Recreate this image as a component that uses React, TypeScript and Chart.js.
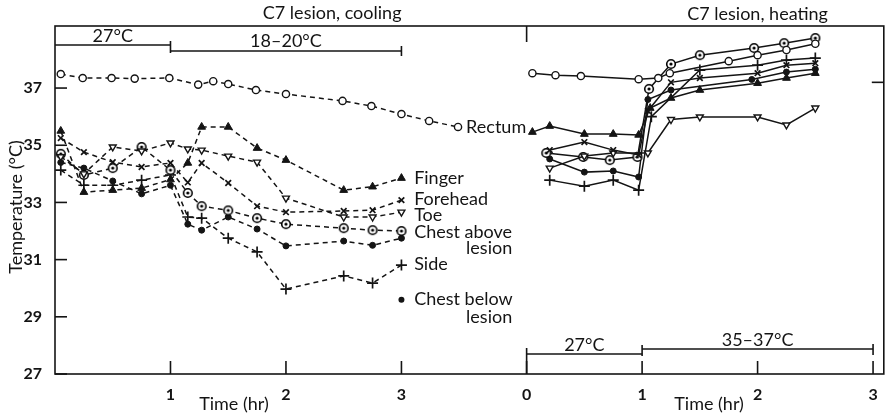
import { useEffect, useRef } from "react";
import { Chart, registerables } from "chart.js";

Chart.register(...registerables);

// ---- axis / layout constants (values, not marks) ----
const OFFSET = 4.084; // right panel time origin on the shared x axis
const X_MAX = 7.177;
const Y_MIN = 27;
const Y_MAX = 39.17;
const yTicks = [27, 29, 31, 33, 35, 37];
const coolTicks = [1, 2, 3];
const heatTicks = [0, 1, 2, 3];

// ---- data: [time (hr), temperature (°C)] ----
// Cooling (left panel)
const rectumCool = [[0.05, 37.49], [0.24, 37.35], [0.49, 37.35], [0.69, 37.33], [0.99, 37.35], [1.24, 37.12], [1.37, 37.24], [1.5, 37.14], [1.74, 36.93], [2.0, 36.79], [2.49, 36.55], [2.74, 36.37], [3.0, 36.09], [3.24, 35.85], [3.49, 35.64]];
const fingerCool = [[0.05, 35.5], [0.25, 33.36], [0.5, 33.43], [0.75, 33.5], [1.0, 33.8], [1.15, 34.38], [1.27, 35.64], [1.5, 35.64], [1.75, 34.9], [2.0, 34.48], [2.5, 33.43], [2.75, 33.55], [3.0, 33.85]];
const foreheadCool = [[0.05, 35.25], [0.25, 34.76], [0.5, 34.41], [0.75, 34.24], [1.0, 34.38], [1.15, 33.7], [1.27, 34.38], [1.5, 33.68], [1.75, 32.87], [2.0, 32.66], [2.5, 32.7], [2.75, 32.73], [3.0, 33.08]];
const toeCool = [[0.05, 34.6], [0.25, 34.0], [0.5, 34.94], [0.75, 34.8], [1.0, 35.08], [1.15, 34.87], [1.27, 34.83], [1.5, 34.62], [1.75, 34.41], [2.0, 33.15], [2.5, 32.49], [2.75, 32.49], [3.0, 32.66]];
const chestAboveCool = [[0.05, 34.7], [0.25, 33.96], [0.5, 34.2], [0.75, 34.94], [1.0, 34.13], [1.15, 33.33], [1.27, 32.87], [1.5, 32.72], [1.75, 32.45], [2.0, 32.24], [2.5, 32.1], [2.75, 32.03], [3.0, 32.0]];
const sideCool = [[0.05, 34.13], [0.25, 33.6], [0.5, 33.6], [0.75, 33.78], [1.0, 33.96], [1.15, 32.49], [1.27, 32.45], [1.5, 31.75], [1.75, 31.27], [2.0, 29.97], [2.5, 30.43], [2.75, 30.18], [3.0, 30.81]];
const chestBelowCool = [[0.05, 34.4], [0.25, 34.2], [0.5, 33.75], [0.75, 33.3], [1.0, 33.6], [1.15, 32.24], [1.27, 32.03], [1.5, 32.49], [1.75, 32.07], [2.0, 31.48], [2.5, 31.65], [2.75, 31.5], [3.0, 31.75]];

// Heating (right panel)
const rectumHeat = [[0.05, 37.52], [0.25, 37.45], [0.47, 37.42], [0.97, 37.31], [1.14, 37.35], [1.24, 37.52], [1.75, 37.94], [2.0, 38.15], [2.25, 38.33], [2.5, 38.55]];
const fingerHeat = [[0.05, 35.46], [0.2, 35.67], [0.5, 35.39], [0.75, 35.39], [0.97, 35.36], [1.07, 36.3], [1.25, 36.65], [1.5, 36.93], [2.0, 37.17], [2.25, 37.35], [2.5, 37.52]];
const foreheadHeat = [[0.2, 34.83], [0.5, 35.11], [0.75, 34.83], [0.97, 34.66], [1.05, 36.2], [1.25, 37.2], [1.5, 37.35], [2.0, 37.52], [2.25, 37.8], [2.5, 37.87]];
const toeHeat = [[0.2, 34.2], [0.5, 34.62], [0.75, 34.73], [1.05, 34.73], [1.25, 35.9], [1.5, 35.99], [2.0, 35.99], [2.25, 35.71], [2.5, 36.3]];
const chestAboveHeat = [[0.17, 34.73], [0.49, 34.59], [0.72, 34.48], [0.96, 34.59], [1.06, 36.97], [1.25, 37.84], [1.5, 38.15], [1.97, 38.4], [2.23, 38.57], [2.5, 38.75]];
const sideHeat = [[0.2, 33.78], [0.5, 33.57], [0.75, 33.78], [0.97, 33.43], [1.08, 36.0], [1.5, 37.63], [2.0, 37.8], [2.25, 37.98], [2.5, 38.05]];
const chestBelowHeat = [[0.2, 34.52], [0.5, 34.06], [0.75, 34.1], [0.97, 33.89], [1.05, 36.6], [1.25, 36.93], [1.95, 37.3], [2.25, 37.56], [2.5, 37.66]];

const seriesNames = ["Rectum", "Finger", "Forehead", "Toe", "Chest above lesion", "Side", "Chest below lesion"];
const coolData = [rectumCool, fingerCool, foreheadCool, toeCool, chestAboveCool, sideCool, chestBelowCool];
const heatData = [rectumHeat, fingerHeat, foreheadHeat, toeHeat, chestAboveHeat, sideHeat, chestBelowHeat];
const markers = ["open", "tri", "x", "itri", "dot", "plus", "fill"];

// label annotations next to the cooling curves: [text, time, temp]
const curveLabels: [string, number, number][] = [
  ["Rectum", 3.56, 35.64],
  ["Finger", 3.11, 33.85],
  ["Forehead", 3.11, 33.12],
  ["Toe", 3.11, 32.55],
  ["Chest above", 3.11, 31.95],
  ["lesion", 3.56, 31.4],
  ["Side", 3.11, 30.85],
  ["Chest below", 3.11, 29.6],
  ["lesion", 3.56, 29.0],
];
const legendDot = [3.0, 29.6];

const INK = "#141414";
const FONT = "Lato, 'Open Sans', sans-serif";

function makeDotCircle(): HTMLCanvasElement {
  const c = document.createElement("canvas");
  c.width = 12;
  c.height = 12;
  const g = c.getContext("2d")!;
  g.fillStyle = "#fff";
  g.strokeStyle = "#000";
  g.lineWidth = 1.6;
  g.beginPath();
  g.arc(6, 6, 4.3, 0, Math.PI * 2);
  g.fill();
  g.stroke();
  g.fillStyle = "#000";
  g.beginPath();
  g.arc(6, 6, 1.6, 0, Math.PI * 2);
  g.fill();
  return c;
}

function markerStyle(m: string, dotImg: HTMLCanvasElement) {
  switch (m) {
    case "open":
      return { pointStyle: "circle", pointRadius: 3.6, pointBackgroundColor: "#fff", pointBorderWidth: 1.4 };
    case "tri":
      return { pointStyle: "triangle", pointRadius: 4.5, pointBackgroundColor: INK, pointBorderWidth: 1 };
    case "itri":
      return { pointStyle: "triangle", pointRotation: 180, pointRadius: 4, pointBackgroundColor: "#fff", pointBorderWidth: 1.4 };
    case "x":
      return { pointStyle: "crossRot", pointRadius: 4, pointBorderWidth: 1.7 };
    case "plus":
      return { pointStyle: "cross", pointRadius: 5.5, pointBorderWidth: 1.7 };
    case "dot":
      return { pointStyle: dotImg, pointRadius: 5 };
    default:
      return { pointStyle: "circle", pointRadius: 3, pointBackgroundColor: INK, pointBorderWidth: 1 };
  }
}

const decorPlugin = {
  id: "decor",
  afterDraw(chart: any) {
    const { ctx, chartArea: a } = chart;
    const x = chart.scales.x;
    const y = chart.scales.y;
    ctx.save();
    ctx.strokeStyle = INK;
    ctx.fillStyle = INK;
    ctx.lineWidth = 1.6;
    // frame
    ctx.strokeRect(a.left, a.top, a.right - a.left, a.bottom - a.top);

    const line = (x1: number, y1: number, x2: number, y2: number) => {
      ctx.beginPath();
      ctx.moveTo(x1, y1);
      ctx.lineTo(x2, y2);
      ctx.stroke();
    };
    // inward ticks
    yTicks.forEach((v) => line(a.left, y.getPixelForValue(v), a.left + 12, y.getPixelForValue(v)));
    coolTicks.forEach((v) => line(x.getPixelForValue(v), a.bottom, x.getPixelForValue(v), a.bottom - 13));
    heatTicks.forEach((v) => line(x.getPixelForValue(v + OFFSET), a.bottom, x.getPixelForValue(v + OFFSET), a.bottom - 13));
    line(x.getPixelForValue(OFFSET), a.top, x.getPixelForValue(OFFSET), a.top + 16);
    line(a.right - 12, y.getPixelForValue(37.2), a.right, y.getPixelForValue(37.2));

    // ambient temperature brackets
    const x0 = x.getPixelForValue(0), x1 = x.getPixelForValue(1), x3 = x.getPixelForValue(3);
    line(x0, a.top + 19, x1, a.top + 19);
    line(x1, a.top + 15, x1, a.top + 27);
    line(x1, a.top + 25, x3, a.top + 25);
    line(x3, a.top + 20, x3, a.top + 30);
    const h0 = x.getPixelForValue(OFFSET), h1 = x.getPixelForValue(OFFSET + 1), h3 = x.getPixelForValue(OFFSET + 3);
    line(h0, a.bottom - 20, h1, a.bottom - 20);
    line(h0, a.bottom - 26, h0, a.bottom);
    line(h1, a.bottom - 29, h1, a.bottom - 18);
    line(h1, a.bottom - 25, h3, a.bottom - 25);
    line(h3, a.bottom - 30, h3, a.bottom - 19);

    ctx.font = `18px ${FONT}`;
    ctx.textAlign = "center";
    ctx.textBaseline = "middle";
    ctx.fillText("27°C", (x0 + x1) / 2, a.top + 10);
    ctx.fillText("18–20°C", (x1 + x3) / 2, a.top + 15);
    ctx.fillText("27°C", (h0 + h1) / 2, a.bottom - 29);
    ctx.fillText("35–37°C", (h1 + h3) / 2, a.bottom - 34);

    // panel titles
    ctx.fillText("C7 lesion, cooling", x.getPixelForValue(2.4), 13);
    ctx.fillText("C7 lesion, heating", x.getPixelForValue(OFFSET + 2.0), 14);
    // axis titles
    ctx.fillText("Time (hr)", x.getPixelForValue(1.55), 404);
    ctx.fillText("Time (hr)", x.getPixelForValue(OFFSET + 1.58), 404);
    ctx.save();
    ctx.translate(16, 207);
    ctx.rotate(-Math.PI / 2);
    ctx.fillText("Temperature (°C)", 0, 0);
    ctx.restore();

    // curve labels
    ctx.textAlign = "left";
    curveLabels.forEach(([t, tx, tv]) => ctx.fillText(t, x.getPixelForValue(tx), y.getPixelForValue(tv)));
    ctx.beginPath();
    ctx.arc(x.getPixelForValue(legendDot[0]), y.getPixelForValue(legendDot[1]), 3, 0, Math.PI * 2);
    ctx.fill();
    ctx.restore();
  },
};

export default function App() {
  const ref = useRef<HTMLCanvasElement>(null);
  useEffect(() => {
    if (!ref.current) return;
    const dotImg = makeDotCircle();
    const datasets: any[] = [];
    seriesNames.forEach((name, i) => {
      const st = markerStyle(markers[i], dotImg);
      datasets.push({
        label: name + " (cooling)",
        data: coolData[i].map(([t, v]) => ({ x: t, y: v })),
        borderColor: INK,
        borderWidth: 1.5,
        borderDash: [5, 4],
        pointBorderColor: INK,
        tension: 0,
        ...st,
      });
      datasets.push({
        label: name + " (heating)",
        data: heatData[i].map(([t, v]) => ({ x: t + OFFSET, y: v })),
        borderColor: INK,
        borderWidth: 1.5,
        pointBorderColor: INK,
        tension: 0,
        ...st,
      });
    });

    const chart = new Chart(ref.current, {
      type: "line",
      data: { datasets },
      plugins: [decorPlugin],
      options: {
        responsive: false,
        animation: false,
        events: [],
        layout: { padding: { left: 0, right: 7, top: 26, bottom: 0 } },
        plugins: { legend: { display: false }, tooltip: { enabled: false } },
        scales: {
          x: {
            type: "linear",
            min: 0,
            max: X_MAX,
            grid: { display: false },
            border: { display: false },
            afterFit: (s: any) => {
              s.height = 43;
            },
            afterBuildTicks: (s: any) => {
              s.ticks = [...coolTicks, ...heatTicks.map((v) => v + OFFSET)].map((v) => ({ value: v }));
            },
            ticks: {
              autoSkip: false,
              maxRotation: 0,
              padding: 3,
              color: INK,
              font: { family: FONT, size: 16, weight: "bold" },
              callback: (v: any) => String(v < 3.5 ? Math.round(v) : Math.round(v - OFFSET)),
            },
          },
          y: {
            type: "linear",
            min: Y_MIN,
            max: Y_MAX,
            grid: { display: false },
            border: { display: false },
            afterFit: (s: any) => {
              s.width = 55;
            },
            afterBuildTicks: (s: any) => {
              s.ticks = yTicks.map((v) => ({ value: v }));
            },
            ticks: {
              padding: 5,
              color: INK,
              font: { family: FONT, size: 16, weight: "bold" },
              callback: (v: any) => String(v),
            },
          },
        },
      },
    } as any);
    return () => chart.destroy();
  }, []);

  return (
    <div style={{ position: "fixed", left: 0, top: 0, width: 891, height: 417, background: "#fff" }}>
      <canvas ref={ref} width={891} height={417} style={{ display: "block" }} />
    </div>
  );
}
